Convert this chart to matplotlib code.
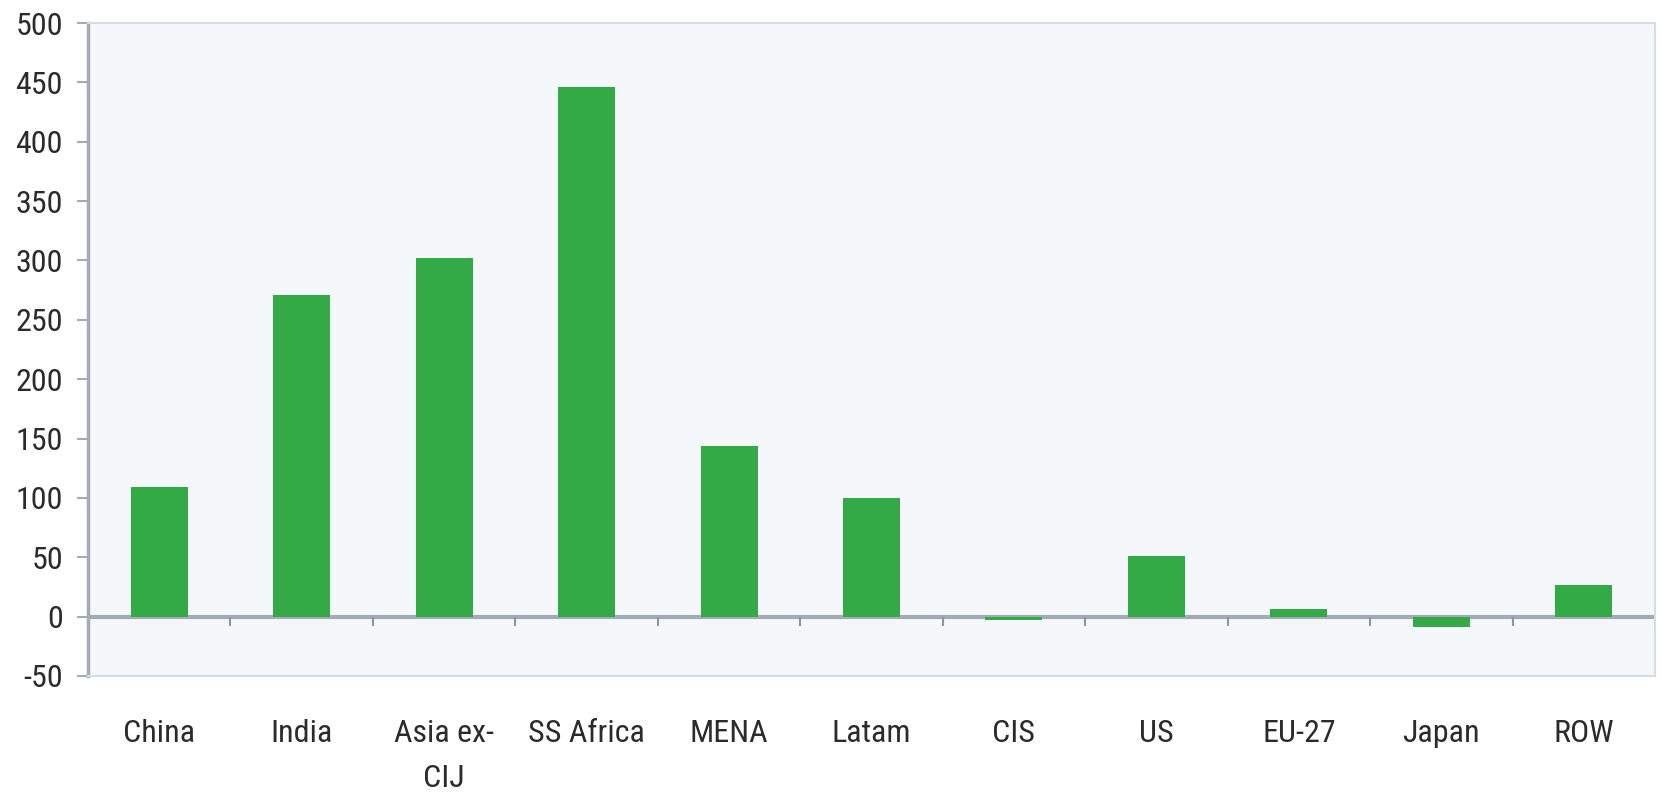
import numpy as np
import matplotlib
matplotlib.use("Agg")
from matplotlib import pyplot as plt
from matplotlib import font_manager

regions = ["China", "India", "Asia ex-\nCIJ", "SS Africa", "MENA", "Latam",
           "CIS", "US", "EU-27", "Japan", "ROW"]
change = [109, 271, 302, 446, 144, 100, -3, 51, 6, -9, 27]
yticks = list(range(-50, 501, 50))

# narrow sans for labels, whichever condensed face is installed
installed = {f.name for f in font_manager.fontManager.ttflist}
narrow = [n for n in ["Arial Narrow", "Liberation Sans Narrow", "Roboto Condensed",
                      "Archivo Narrow", "PT Sans Narrow", "Open Sans Condensed"]
          if n in installed]
plt.rcParams["font.family"] = narrow[:1] + ["Liberation Sans", "DejaVu Sans"]

fig = plt.figure(figsize=(16.64, 7.99), dpi=100)
ax = fig.add_axes([0.0529, 0.154, 0.9417, 0.8172])
ax.set_facecolor("#f5f8fb")

x = np.arange(len(regions))
ax.bar(x, change, width=0.4, color="#34aa46", zorder=3)

# zero line with category separators hanging below it
ax.axhline(0, color="#a3abb6", lw=3, zorder=2)
ax.vlines(np.arange(len(regions)) + 0.5, -8, 0, color="#8d96a2", lw=1.5, zorder=2)

ax.set_xlim(-0.5, len(regions) - 0.5)
ax.set_ylim(-50, 500)
ax.set_yticks(yticks)
ax.set_yticklabels([str(v) for v in yticks], fontsize=23, color="#2b2b2b")
ax.set_xticks(x)
ax.set_xticklabels(regions, fontsize=23, color="#2b2b2b", linespacing=1.7, va="top")
ax.tick_params(axis="x", length=0, pad=31)
ax.tick_params(axis="y", length=8, width=1.5, color="#a3abb6", pad=10)

ax.spines["left"].set_color("#a3abb6")
ax.spines["left"].set_linewidth(2.5)
for side in ["top", "right", "bottom"]:
    ax.spines[side].set_color("#d8dde4")
    ax.spines[side].set_linewidth(1.5)

fig.savefig("out.png", dpi=100, facecolor="white")
